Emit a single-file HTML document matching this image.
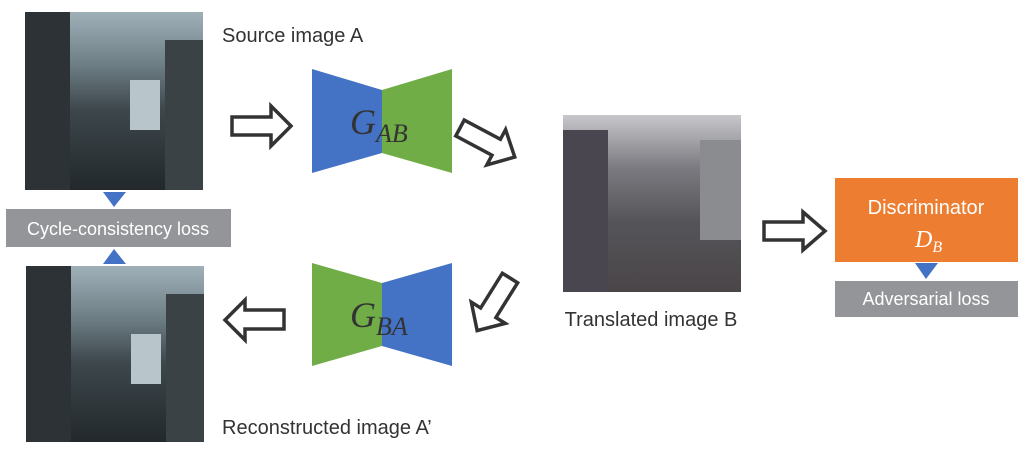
<!DOCTYPE html>
<html><head><meta charset="utf-8"><style>
html,body{margin:0;padding:0;background:#fff;width:1024px;height:449px;overflow:hidden}
</style></head><body>
<svg width="1024" height="449" viewBox="0 0 1024 449" xmlns="http://www.w3.org/2000/svg" font-family="'Liberation Sans',sans-serif">
<defs>
<linearGradient id="st" x1="0" y1="0" x2="0" y2="1">
<stop offset="0" stop-color="#9fb0b8"/><stop offset="0.3" stop-color="#6d7d84"/><stop offset="0.55" stop-color="#3d474c"/><stop offset="1" stop-color="#22282b"/>
</linearGradient>
<linearGradient id="tr" x1="0" y1="0" x2="0" y2="1">
<stop offset="0" stop-color="#c8c8cc"/><stop offset="0.3" stop-color="#7a7a80"/><stop offset="0.6" stop-color="#555559"/><stop offset="1" stop-color="#4a4548"/>
</linearGradient>
</defs>
<rect x="25" y="12" width="178" height="178" fill="url(#st)"/>
<rect x="25" y="12" width="45" height="178" fill="#2c3236"/>
<rect x="165" y="40" width="38" height="150" fill="#3a4246"/>
<rect x="130" y="80" width="30" height="50" fill="#b8c6cc"/>
<rect x="26" y="266" width="178" height="176" fill="url(#st)"/>
<rect x="26" y="266" width="45" height="176" fill="#2c3236"/>
<rect x="166" y="294" width="38" height="148" fill="#3a4246"/>
<rect x="131" y="334" width="30" height="50" fill="#b8c6cc"/>
<rect x="563" y="115" width="178" height="177" fill="url(#tr)"/>
<rect x="563" y="130" width="45" height="162" fill="#4a4650"/>
<rect x="700" y="140" width="41" height="100" fill="#8a8c90"/>
<polygon points="103,192 126,192 114,207" fill="#4472c4"/>
<rect x="6" y="209" width="225" height="38" fill="#939598"/>
<text x="118" y="235" font-size="18" fill="#fff" text-anchor="middle">Cycle-consistency loss</text>
<polygon points="103,264 126,264 114,249" fill="#4472c4"/>
<text x="222" y="42" font-size="20" fill="#333">Source image A</text>
<text x="222" y="434" font-size="20" fill="#333">Reconstructed image A’</text>
<text x="651" y="326" font-size="20" fill="#333" text-anchor="middle">Translated image B</text>
<polygon points="312,69 382,90 382,153 312,173" fill="#4472c4"/>
<polygon points="382,90 452,69 452,173 382,153" fill="#70ad47"/>
<text x="350" y="134" font-size="36" font-style="italic" font-family="'Liberation Serif',serif" fill="#333">G<tspan font-size="26" dy="8">AB</tspan></text>
<polygon points="312,263 382,283 382,346 312,366" fill="#70ad47"/>
<polygon points="382,283 452,263 452,366 382,346" fill="#4472c4"/>
<text x="350" y="327" font-size="36" font-style="italic" font-family="'Liberation Serif',serif" fill="#333">G<tspan font-size="26" dy="8">BA</tspan></text>
<g fill="#fff" stroke="#333" stroke-width="3.5" stroke-linejoin="miter">
<polygon points="232,117 271,117 271,106 291,126 271,146 271,135 232,135"/>
<polygon points="284,310 245,310 245,300 225,320 245,340 245,329 284,329"/>
<polygon points="764,222 803,222 803,212 825,231 803,250 803,240 764,240"/>
<g transform="translate(460,128) rotate(28)"><polygon points="0,-9 41,-9 41,-20 62,0 41,20 41,9 0,9"/></g>
<g transform="translate(510,278) rotate(122)"><polygon points="0,-9 41,-9 41,-20 62,0 41,20 41,9 0,9"/></g>
</g>
<rect x="835" y="178" width="183" height="84" fill="#ed7d31"/>
<text x="926" y="214" font-size="20" fill="#fff" text-anchor="middle">Discriminator</text>
<text x="915" y="247" font-size="24" font-style="italic" font-family="'Liberation Serif',serif" fill="#fff">D<tspan font-size="16" dy="5">B</tspan></text>
<polygon points="915,263 938,263 926,279" fill="#4472c4"/>
<rect x="835" y="281" width="183" height="36" fill="#939598"/>
<text x="926" y="305" font-size="18" fill="#fff" text-anchor="middle">Adversarial loss</text>
</svg>
</body></html>
